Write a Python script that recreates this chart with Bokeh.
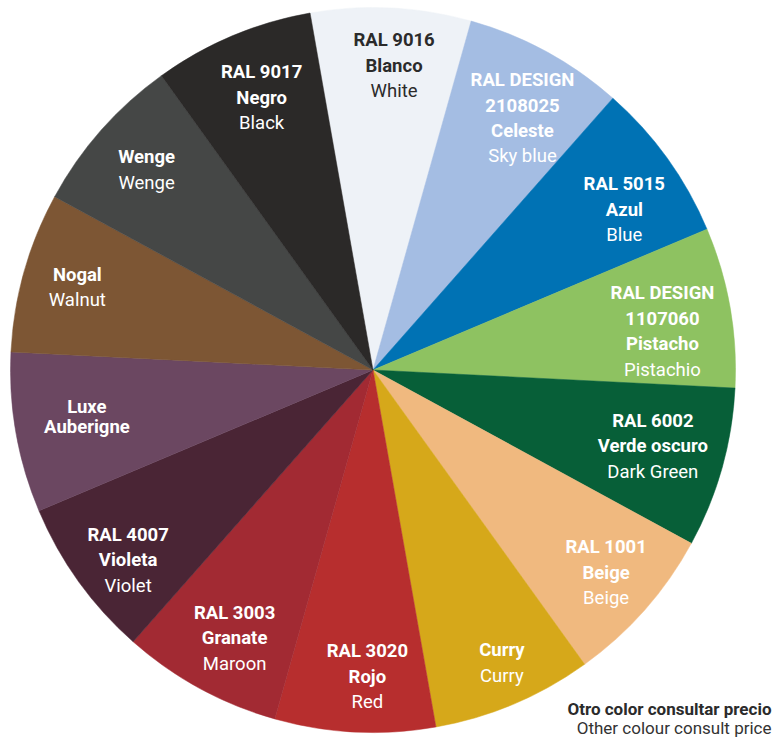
import math
from bokeh.plotting import figure
from bokeh.models import ColumnDataSource, Range1d
from bokeh.core.properties import value
from bokeh.embed import file_html
from bokeh.resources import INLINE

# ---- data ----
codes = [["RAL 9016"], ["RAL DESIGN", "2108025"], ["RAL 5015"], ["RAL DESIGN", "1107060"],
         ["RAL 6002"], ["RAL 1001"], [], ["RAL 3020"], ["RAL 3003"], ["RAL 4007"],
         [], [], [], ["RAL 9017"]]
names_es = [["Blanco"], ["Celeste"], ["Azul"], ["Pistacho"], ["Verde oscuro"], ["Beige"],
            ["Curry"], ["Rojo"], ["Granate"], ["Violeta"], ["Luxe", "Auberigne"], ["Nogal"],
            ["Wenge"], ["Negro"]]
names_en = ["White", "Sky blue", "Blue", "Pistachio", "Dark Green", "Beige", "Curry", "Red",
            "Maroon", "Violet", "", "Walnut", "Wenge", "Black"]
values = [1, 1, 1, 1, 1, 1, 1, 1, 1, 1, 1, 1, 1, 1]
colors = ["#EEF2F7", "#A4BDE3", "#0072B4", "#8EC261", "#075F38", "#F0B97F", "#D6A81A",
          "#B72E2E", "#A22A33", "#4A2535", "#6B4761", "#7D5634", "#454746", "#2B2928"]
note_es = "Otro color consultar precio"
note_en = "Other colour consult price"

# ---- layout / style ----
W, H = 773, 737
CX, CY, R = 372.5, 367.5, 362.5
START_DEG = 100.0
label_r = [305, 293, 298, 292, 290, 309, 320, 307, 302, 310, 290, 307, 302, 294]
label_da = [-1.1, -2.1, -3.2, -2.4, 0.5, 0.4, 0.9, 1.8, 1.3, 2.1, -0.6, 0.1, 0.0, -0.6]
gap = [25.5] * 14
gap[10] = 20.0
FONT = "Roboto"
DARK = "#2B2B2B"

total = float(sum(values))
starts, ends, mids = [], [], []
cum = 0.0
for v in values:
    a0 = START_DEG - cum / total * 360.0
    a1 = a0 - v / total * 360.0
    starts.append(math.radians(a0))
    ends.append(math.radians(a1))
    mids.append((a0 + a1) / 2)
    cum += v

p = figure(width=W, height=H, output_backend="svg", toolbar_location=None,
           x_range=Range1d(0, W), y_range=Range1d(0, H), min_border=0)
p.axis.visible = False
p.grid.visible = False
p.outline_line_color = None
p.background_fill_color = "white"
p.border_fill_color = "white"

src = ColumnDataSource(dict(x=[CX] * len(values), y=[CY] * len(values),
                            s=starts, e=ends, c=colors))
p.wedge(x="x", y="y", radius=R, start_angle="s", end_angle="e", direction="clock",
        fill_color="c", line_color="c", line_width=0.5, source=src)

bx, by, bt, bc = [], [], [], []
nx, ny, nt, nc = [], [], [], []
for i in range(len(values)):
    lines = [(t, True) for t in codes[i]] + [(t, True) for t in names_es[i]]
    if names_en[i]:
        lines.append((names_en[i], False))
    ang = math.radians(mids[i] + label_da[i])
    lx = CX + label_r[i] * math.cos(ang)
    ly = CY + label_r[i] * math.sin(ang)
    n = len(lines)
    col = DARK if i == 0 else "white"
    for k, (t, bold) in enumerate(lines):
        yy = ly + ((n - 1) / 2 - k) * gap[i]
        if bold:
            bx.append(lx); by.append(yy); bt.append(t); bc.append(col)
        else:
            nx.append(lx); ny.append(yy); nt.append(t); nc.append(col)

p.text(x=bx, y=by, text=bt, text_color=bc, text_font=value(FONT), text_font_style="bold",
       text_font_size="18.5px", text_align="center", text_baseline="middle")
p.text(x=nx, y=ny, text=nt, text_color=nc, text_font=value(FONT), text_font_style="normal",
       text_font_size="18.5px", text_align="center", text_baseline="middle")

p.text(x=[W - 2], y=[29], text=[note_es], text_color=DARK, text_font=value(FONT),
       text_font_style="bold", text_font_size="17px", text_align="right", text_baseline="alphabetic")
p.text(x=[W - 2], y=[10], text=[note_en], text_color="#333333", text_font=value(FONT),
       text_font_style="normal", text_font_size="17px", text_align="right", text_baseline="alphabetic")

open("out.html", "w").write(file_html(p, INLINE))
